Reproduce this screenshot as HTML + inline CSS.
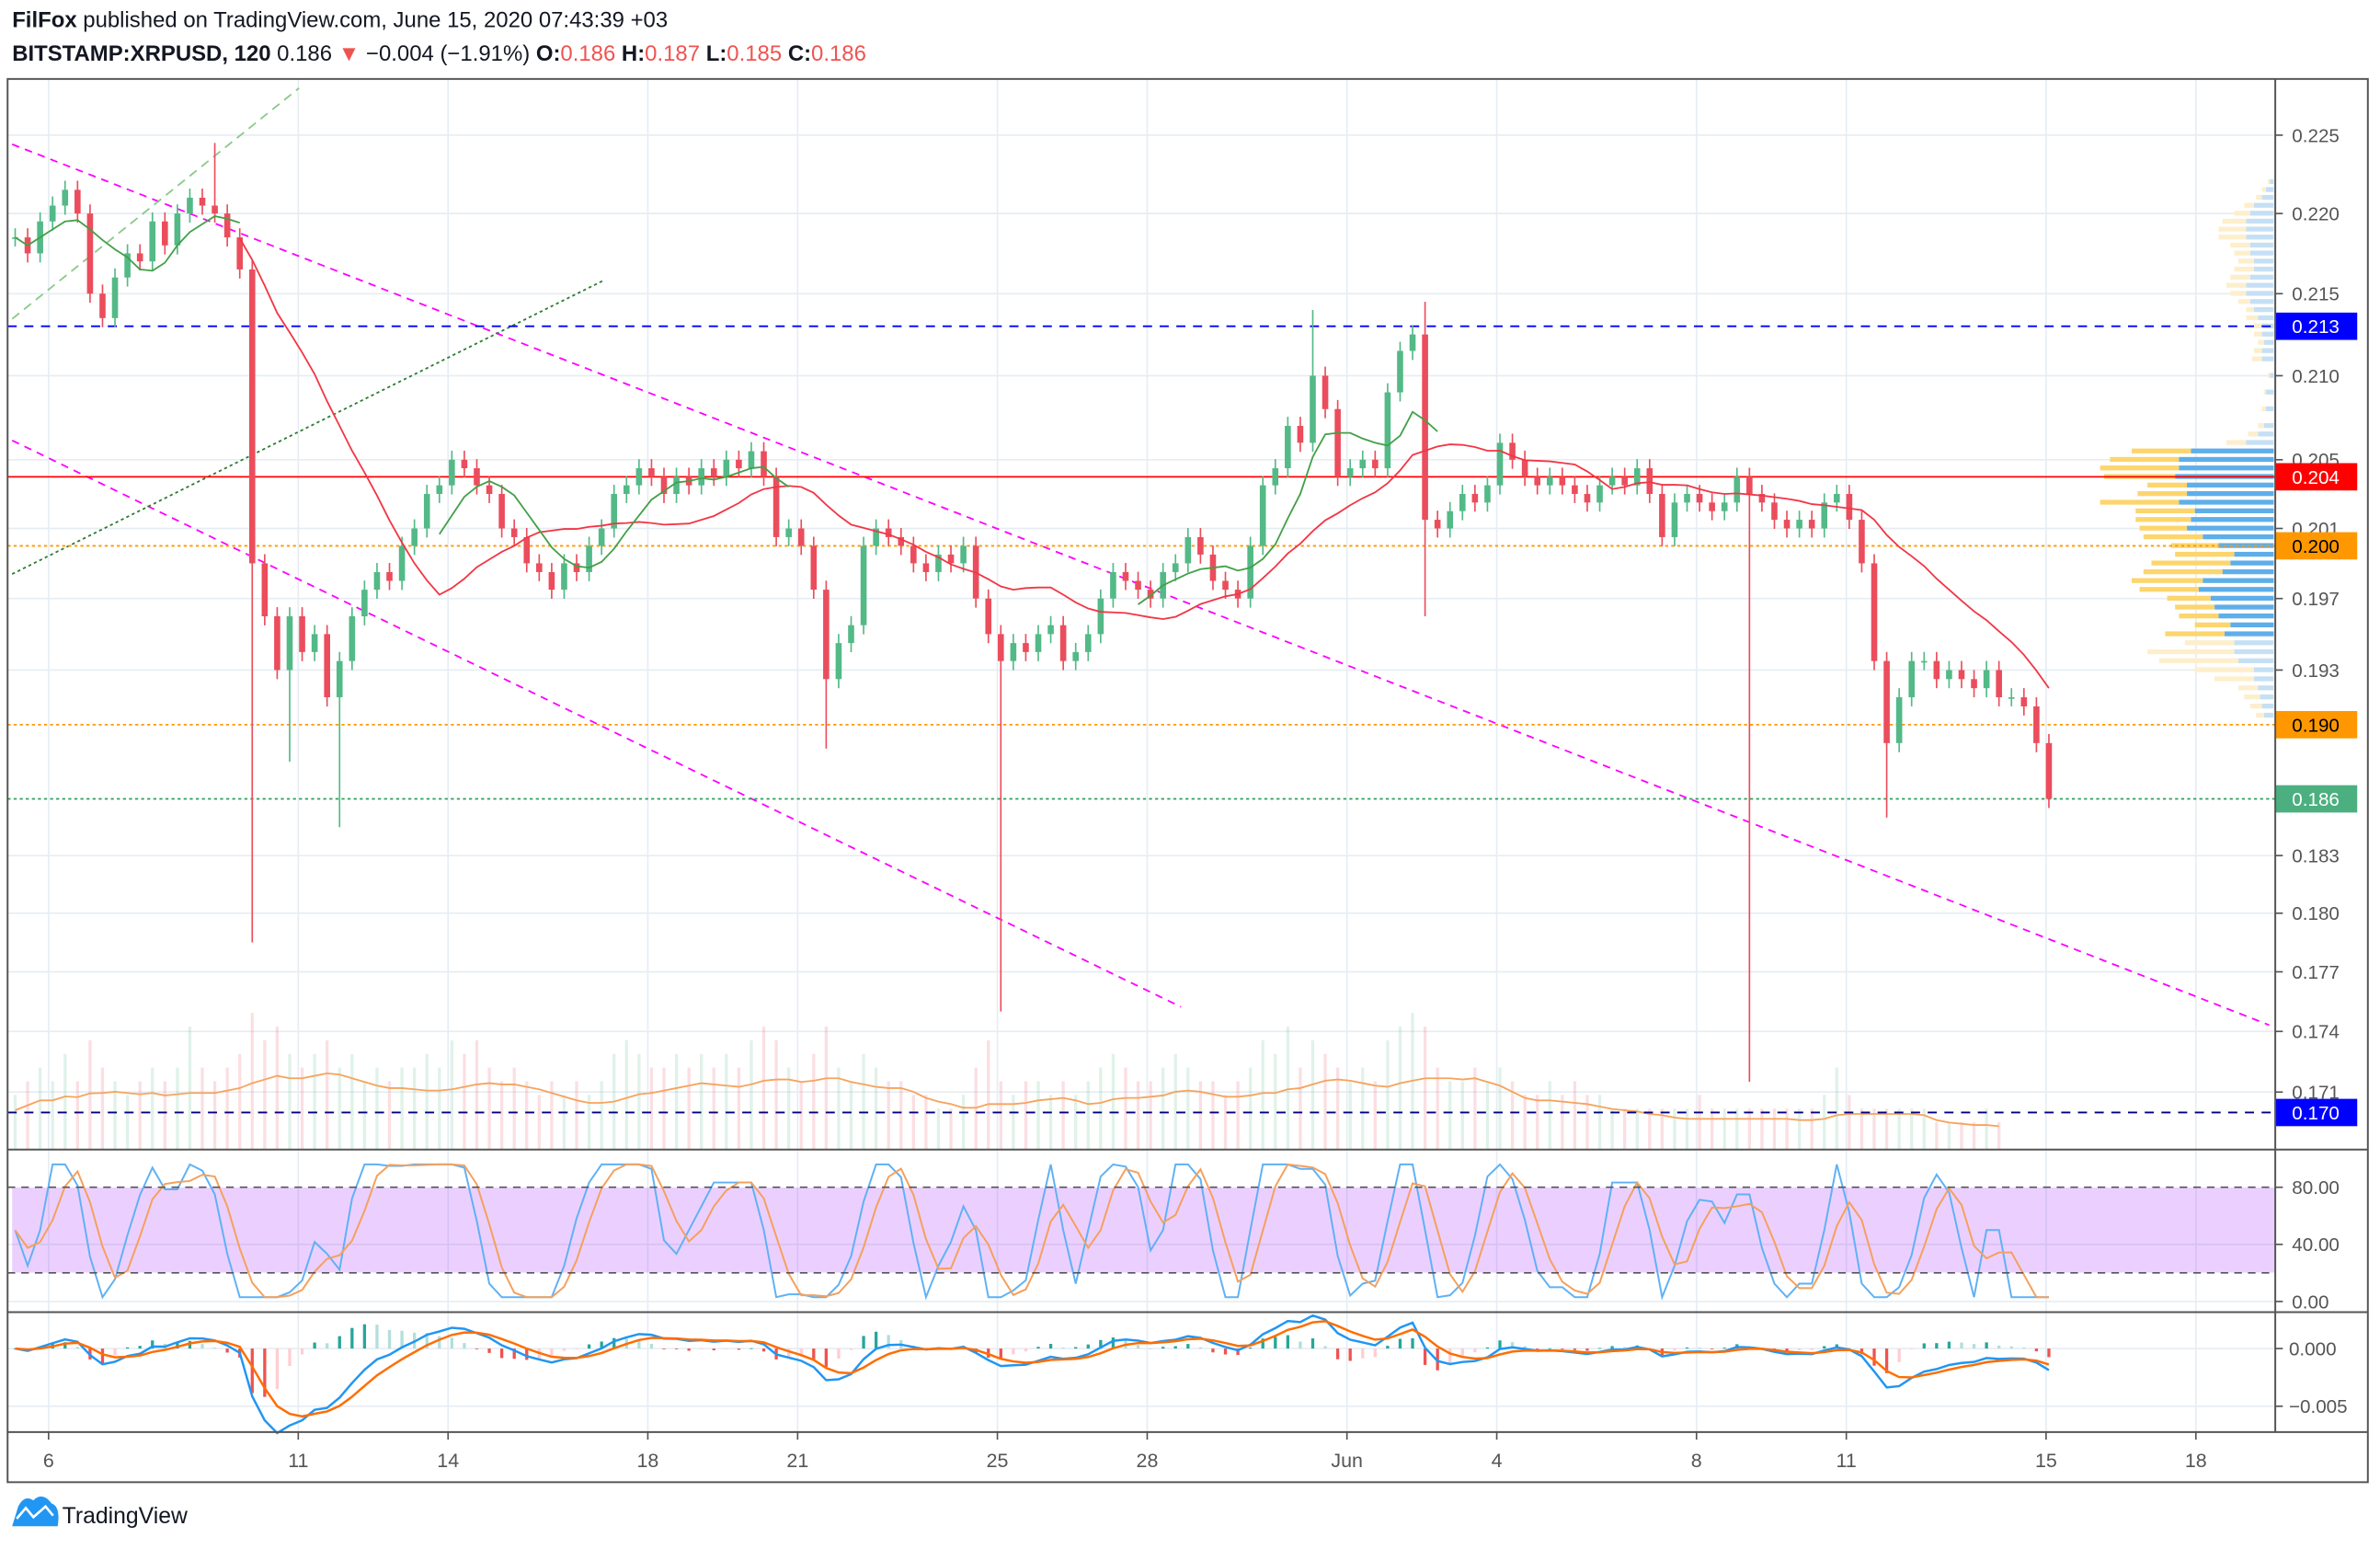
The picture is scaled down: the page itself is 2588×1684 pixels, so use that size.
<!DOCTYPE html>
<html><head><meta charset="utf-8"><style>
html,body{margin:0;padding:0;background:#fff;}
svg{display:block;font-family:"Liberation Sans",sans-serif;}
</style></head><body>
<svg id="chart" xmlns="http://www.w3.org/2000/svg" width="2588" height="1684" viewBox="0 0 1568 1020" preserveAspectRatio="none">
<rect x="0" y="0" width="1568" height="1020" fill="#fff"/>
<g>
<text x="8" y="18" font-size="14.5" fill="#131722"><tspan font-weight="bold">FilFox</tspan> published on TradingView.com, June 15, 2020 07:43:39 +03</text>
<text x="8" y="40" font-size="14.5" fill="#131722"><tspan font-weight="bold">BITSTAMP:XRPUSD, 120</tspan> 0.186 <tspan fill="#ef5350">▼</tspan> −0.004 (−1.91%) <tspan font-weight="bold">O:</tspan><tspan fill="#ef5350">0.186</tspan> <tspan font-weight="bold">H:</tspan><tspan fill="#ef5350">0.187</tspan> <tspan font-weight="bold">L:</tspan><tspan fill="#ef5350">0.185</tspan> <tspan font-weight="bold">C:</tspan><tspan fill="#ef5350">0.186</tspan></text>
</g>
<g id="grid"></g>
<rect x="8" y="782" width="1491" height="56" fill="rgba(153,21,255,0.2)"/>
<g id="vprofile"></g>
<g id="volume"></g>
<g id="lines"></g>
<g id="candles"></g>
<g id="ind"></g>
<g id="axes"></g>
<g fill="none" stroke="#555" stroke-width="1.2">
<rect x="5" y="52" width="1555" height="924"/>
<line x1="5" y1="757" x2="1560" y2="757"/>
<line x1="5" y1="864" x2="1560" y2="864"/>
<line x1="5" y1="943" x2="1560" y2="943"/>
<line x1="1499" y1="52" x2="1499" y2="943"/>
</g>
<g>
<path d="M8 1005 L12 992 Q16 984 22 988 Q28 982 34 990 Q40 992 38 1005 Z" fill="#2196f3"/>
<polyline points="11,1000 17,993 22,999 30,992 35,998" fill="none" stroke="#fff" stroke-width="1.6"/>
<text x="41" y="1003" font-size="15" fill="#131722">TradingView</text>
</g>
</svg>
<script>
const closes=[0.2185,0.2175,0.2195,0.2205, 0.2215,0.2200,0.2150,0.2135, 0.2160,0.2175,0.2170,0.2195, 0.2180,0.2200,0.2210,0.2205,
0.2200,0.2185,0.2165,0.1990, 0.1960,0.1930,0.1960,0.1940, 0.1950,0.1915,0.1935,0.1960, 0.1975,0.1985,0.1980,0.2000,
0.2010,0.2030,0.2035,0.2050, 0.2045,0.2035,0.2030,0.2010, 0.2005,0.1990,0.1985,0.1975, 0.1990,0.1985,0.2000,0.2010,
0.2030,0.2035,0.2045,0.2040, 0.2030,0.2040,0.2035,0.2045, 0.2040,0.2050,0.2045,0.2055, 0.2040,0.2005,0.2010,0.2000,
0.1975,0.1925,0.1945,0.1955, 0.2000,0.2010,0.2005,0.2000, 0.1990,0.1985,0.1995,0.1990, 0.2000,0.1970,0.1950,0.1935,
0.1945,0.1940,0.1950,0.1955, 0.1935,0.1940,0.1950,0.1970, 0.1985,0.1980,0.1975,0.1970, 0.1985,0.1990,0.2005,0.1995,
0.1980,0.1975,0.1970,0.2000, 0.2035,0.2045,0.2070,0.2060, 0.2100,0.2080,0.2040,0.2045, 0.2050,0.2045,0.2090,0.2115,
0.2125,0.2015,0.2010,0.2020, 0.2030,0.2025,0.2035,0.2060, 0.2050,0.2040,0.2035,0.2040, 0.2035,0.2030,0.2025,0.2035,
0.2040,0.2035,0.2045,0.2030, 0.2005,0.2025,0.2030,0.2025, 0.2020,0.2025,0.2040,0.2030, 0.2025,0.2015,0.2010,0.2015,
0.2010,0.2025,0.2030,0.2015, 0.1990,0.1935,0.1890,0.1915, 0.1935,0.1935,0.1925,0.1930, 0.1925,0.1920,0.1930,0.1915,
0.1915,0.1910,0.1890,0.1860];
const lowSpikes=[[19,0.1785],[22,0.1880],[26,0.1845],[65,0.1887],[79,0.1750],[113,0.1960],[139,0.1715],[150,0.1850]];
const highSpikes=[[16,0.2245],[104,0.2140],[113,0.2145]];
const volumes=[0.4,0.5,0.6,0.5, 0.7,0.5,0.8,0.6, 0.5,0.4,0.5,0.6, 0.5,0.6,0.9,0.6, 0.5,0.6,0.7,1.0, 0.8,0.9,0.7,0.6,
0.7,0.8,0.6,0.7, 0.5,0.6,0.5,0.6, 0.6,0.7,0.6,0.8, 0.7,0.8,0.6,0.5, 0.6,0.5,0.4,0.5, 0.4,0.5,0.4,0.5,
0.7,0.8,0.7,0.6, 0.6,0.7,0.6,0.7, 0.6,0.7,0.6,0.8, 0.9,0.8,0.6,0.5, 0.7,0.9,0.6,0.5, 0.7,0.6,0.5,0.5,
0.4,0.4,0.3,0.3, 0.4,0.6,0.8,0.5, 0.4,0.5,0.5,0.4, 0.5,0.4,0.5,0.6, 0.7,0.6,0.5,0.5, 0.6,0.7,0.6,0.5,
0.5,0.4,0.5,0.6, 0.8,0.7,0.9,0.6, 0.8,0.7,0.6,0.5, 0.6,0.5,0.8,0.9, 1.0,0.9,0.6,0.5, 0.5,0.6,0.5,0.6,
0.5,0.4,0.4,0.5, 0.4,0.5,0.4,0.4, 0.3,0.3,0.3,0.3, 0.3,0.3,0.3,0.4, 0.3,0.3,0.3,0.3, 0.3,0.3,0.3,0.3,
0.3,0.4,0.6,0.4, 0.3,0.3,0.3,0.3, 0.3,0.3,0.2,0.2, 0.2,0.2,0.3,0.2];
const profilePrices=[0.2220,0.2215,0.2210,0.2205,0.2200,0.2195,0.2190,0.2185,0.2180,0.2175,0.2170,0.2165,0.2160,0.2155,0.2150,0.2145,0.2140,0.2135,0.2130,0.2125,0.2120,0.2115,0.2110,0.2100,0.2090,0.2080,0.2070,0.2065,0.2060,0.2055,0.2050,0.2045,0.2040,0.2035,0.2030,0.2025,0.2020,0.2015,0.2010,0.2005,0.2000,0.1995,0.1990,0.1985,0.1980,0.1975,0.1970,0.1965,0.1960,0.1955,0.1950,0.1945,0.1940,0.1935,0.1930,0.1925,0.1920,0.1915,0.1910,0.1905];
const profileBlue=[2,4,6,10,12,14,14,14,12,12,10,10,12,14,14,12,10,8,6,6,5,6,6,2,4,4,5,8,14,42,48,48,50,44,44,48,40,42,44,36,28,20,22,26,36,38,32,30,28,22,25,20,20,18,10,10,8,7,6,5];
const profileYellow=[1,2,3,5,8,12,14,14,10,8,8,10,10,10,8,6,4,6,4,4,3,4,5,1,1,2,3,5,10,30,35,40,36,20,25,40,30,28,24,30,24,30,40,40,36,30,22,20,20,18,30,25,44,40,30,20,10,8,6,4];
const dayLabels=["6","11","14","18","21","25","28","Jun","4","8","11","15","18"];
const dayIndex=[0,5,8,12,15,19,22,26,29,33,36,40,43];
const priceTicks=[0.225,0.220,0.215,0.210,0.205,0.201,0.197,0.193,0.183,0.180,0.177,0.174,0.171];
const levelPrices=[0.213,0.204,0.200,0.190,0.186,0.170];
const stochTicks=[80,40,0];
const macdTicks=[0,-0.005];

const NS="http://www.w3.org/2000/svg";
function el(tag,attrs,parent){const e=document.createElementNS(NS,tag);for(const k in attrs)e.setAttribute(k,attrs[k]);parent.appendChild(e);return e;}
const yP=p=>89+(Math.log(0.225)-Math.log(p))*2296;
const xI=i=>10+8.22*i;
const xD=d=>32+32.9*d;
const yS=v=>857-v*0.94;
const yM=v=>888-v*7600;
const G=document.getElementById('grid');
for(let k=0;k<dayIndex.length;k++){const x=xD(dayIndex[k]);
 const l=el('line',{x1:x,y1:52,x2:x,y2:943,stroke:'#e6edf3','stroke-width':1},G);
 
 }
for(const p of priceTicks){const l=el('line',{x1:5,y1:yP(p),x2:1499,y2:yP(p),stroke:'#e6edf3','stroke-width':1},G);
 
 }
[yS(0),yS(40),yM(0),yM(-0.005)].forEach(y=>{const l=el('line',{x1:5,y1:y,x2:1499,y2:y,stroke:'#e6edf3'},G);
 
 });
const VP=document.getElementById('vprofile');
profilePrices.forEach((p,i)=>{const y=yP(p);const bright=(p<=0.2055&&p>=0.1950);
 const b=el('rect',{x:1498-profileBlue[i]*1.3,y:y-1.8,width:profileBlue[i]*1.3,height:3.2,fill:bright?'#5eaeea':'#c5e0f5'},VP);
 
 
 const yl=el('rect',{x:1498-profileBlue[i]*1.3-profileYellow[i]*1.3,y:y-1.8,width:profileYellow[i]*1.3,height:3.2,fill:bright?'#fcd56d':'#fdefcc'},VP);
 
 });
const V=document.getElementById('volume');
closes.forEach((c,i)=>{const o=i?closes[i-1]:c;const h=volumes[i]*90;
 const r=el('rect',{x:xI(i)-1,y:757-h,width:2,height:h,fill:c>=o?'rgba(83,185,135,0.18)':'rgba(235,77,92,0.18)'},V);
 
 });
let vma=[];volumes.forEach((v,i)=>{const s=volumes.slice(Math.max(0,i-7),i+1);vma.push(s.reduce((a,b)=>a+b,0)/s.length);});
const vl=el('polyline',{points:vma.map((v,i)=>xI(i)+','+(757-v*90*0.72)).join(' '),fill:'none',stroke:'#f7a35c','stroke-width':1.1},V);


const L=document.getElementById('lines');
function dl(x1,y1,x2,y2,st,da,name,w){const l=el('line',{x1,y1,x2,y2,stroke:st,'stroke-width':w||1.1,'stroke-dasharray':da},L);}
dl(8,95,1495,675,'#ff00ff','5,4','upper-trendline');
dl(8,290,778,663,'#ff00ff','5,4','lower-trendline');
dl(8,378,397,185,'#2e7d32','2,2','green-trendline');
dl(8,210,197,58,'#8bc98b','6,4','light-green-trendline');
const lvStyle=[['#0000ff','6,5'],['#ff0000',''],['#ff9800','2,2'],['#ff9800','2,2'],['#2e9e5b','2,2'],['#000080','6,5']];
const lvBg=['#0000ff','#ff0000','#ff9800','#ff9800','#4caf80','#0000ff'];
const lvFg=['#fff','#fff','#000','#000','#fff','#fff'];
levelPrices.forEach((p,i)=>dl(5,yP(p),1499,yP(p),lvStyle[i][0],lvStyle[i][1],'level-line'));
const C=document.getElementById('candles');
const lows={},highs={};lowSpikes.forEach(s=>lows[s[0]]=s[1]);highSpikes.forEach(s=>highs[s[0]]=s[1]);
closes.forEach((c,i)=>{const o=i?closes[i-1]:c;const up=c>=o;const col=up?'#53b987':'#eb4d5c';
 const x=xI(i);const yt=Math.min(yP(o),yP(c)),yb=Math.max(yP(o),yP(c));
 const wt=highs[i]?yP(highs[i]):yt-6,wb=lows[i]?yP(lows[i]):yb+6;
 const w=el('line',{x1:x,y1:wt,x2:x,y2:wb,stroke:col,'stroke-width':1},C);
 
 
 const b=el('rect',{x:x-2,y:yt,width:4,height:Math.max(1,yb-yt),fill:col},C);
 
 });
const I=document.getElementById('ind');
function sma(a,n){return a.map((v,i)=>{const s=a.slice(Math.max(0,i-n+1),i+1);return s.reduce((x,y)=>x+y,0)/s.length;});}
function ema(a,n){const k=2/(n+1);let r=[];a.forEach((v,i)=>r.push(i?v*k+r[i-1]*(1-k):v));return r;}
const red=sma(closes,16),green=sma(closes,6);
const rl=el('polyline',{points:red.slice(18).map((v,i)=>xI(i+18)+','+yP(v)).join(' '),fill:'none',stroke:'#f23645','stroke-width':1.1},I);


[[0,19],[34,63],[90,115]].forEach(r=>{const g=el('polyline',{points:green.slice(r[0],r[1]).map((v,i)=>xI(i+r[0])+','+yP(v)).join(' '),fill:'none',stroke:'#43a047','stroke-width':1.1},I);
 
 });
let k=closes.map((c,i)=>{const s=closes.slice(Math.max(0,i-4),i+1);const hi=Math.max(...s),lo=Math.min(...s);return hi===lo?50:(c-lo)/(hi-lo)*100;});
k=sma(k,2).map(v=>Math.min(96,Math.max(3,v)));const d=sma(k,3);
const sk=el('polyline',{points:k.map((v,i)=>xI(i)+','+yS(v)).join(' '),fill:'none',stroke:'#5fb1f5','stroke-width':1.2},I);


const sd=el('polyline',{points:d.map((v,i)=>xI(i)+','+yS(v)).join(' '),fill:'none',stroke:'#f5a05c','stroke-width':1.2},I);


[80,20].forEach(v=>{const l=el('line',{x1:5,y1:yS(v),x2:1499,y2:yS(v),stroke:'#555','stroke-dasharray':'5,4'},I);
 
 });
const e1=ema(closes,4),e2=ema(closes,9);const macd=e1.map((v,i)=>v-e2[i]);const sig=ema(macd,4);
macd.forEach((m,i)=>{const h=m-sig[i];const prev=i?macd[i-1]-sig[i-1]:h;
 const col=h>=0?(h>=prev?'#26a69a':'#b2dfdb'):(h<=prev?'#ef5350':'#ffcdd2');
 const y0=yM(0),y1=yM(h*1.5);
 const r=el('rect',{x:xI(i)-1,y:Math.min(y0,y1),width:2,height:Math.max(0.5,Math.abs(y1-y0)),fill:col},I);
 
 });
const ml=el('polyline',{points:macd.map((v,i)=>xI(i)+','+yM(v)).join(' '),fill:'none',stroke:'#2196f3','stroke-width':1.5},I);


const sl=el('polyline',{points:sig.map((v,i)=>xI(i)+','+yM(v)).join(' '),fill:'none',stroke:'#ff6d00','stroke-width':1.5},I);


const A=document.getElementById('axes');
priceTicks.forEach(p=>{const y=yP(p);el('line',{x1:1499,y1:y,x2:1504,y2:y,stroke:'#555'},A);
 const t=el('text',{x:1510,y:y+4.5,'font-size':12.5,fill:'#555'},A);t.textContent=p.toFixed(3);
 
 });
levelPrices.forEach((p,i)=>{const y=yP(p);
 const r=el('rect',{x:1499,y:y-9,width:54,height:18,fill:lvBg[i]},A);
 
 
 const t=el('text',{x:1510,y:y+4.5,'font-size':12.5,fill:lvFg[i]},A);t.textContent=p.toFixed(3);
 
 });
stochTicks.forEach(v=>{const y=yS(v);el('line',{x1:1499,y1:y,x2:1504,y2:y,stroke:'#555'},A);
 const t=el('text',{x:1510,y:y+4.5,'font-size':12.5,fill:'#555'},A);t.textContent=v.toFixed(2);
 
 });
macdTicks.forEach(v=>{const y=yM(v);el('line',{x1:1499,y1:y,x2:1504,y2:y,stroke:'#555'},A);
 const t=el('text',{x:1508,y:y+4.5,'font-size':12.5,fill:'#555'},A);t.textContent=v===0?'0.000':'−0.005';
 
 });
dayLabels.forEach((s,i)=>{const x=xD(dayIndex[i]);el('line',{x1:x,y1:943,x2:x,y2:948,stroke:'#555'},A);
 const t=el('text',{x:x,y:966,'font-size':13,fill:'#555','text-anchor':'middle'},A);t.textContent=s;
 
 });
</script>
</body></html>
